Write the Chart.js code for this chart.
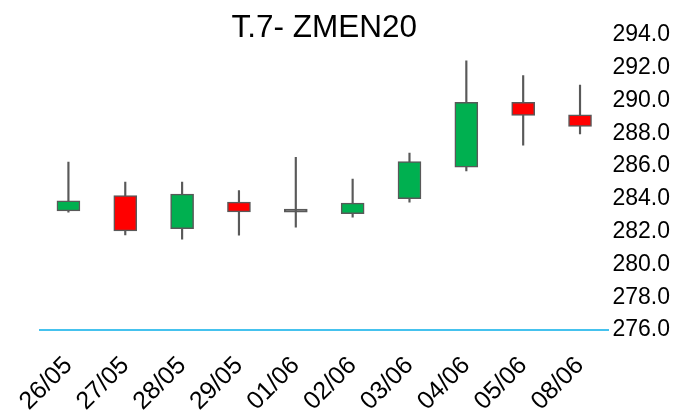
<!DOCTYPE html>
<html><head><meta charset="utf-8">
<script src="https://cdn.jsdelivr.net/npm/chart.js@4/dist/chart.umd.min.js"></script>
<style>html,body{margin:0;padding:0;background:#fff}#wrap{width:682px;height:411px}</style>
</head><body><div id="wrap"><canvas id="c" width="682" height="411"></canvas></div>
<script>
const chartTitle = 'T.7- ZMEN20';
const dates = ['26/05','27/05','28/05','29/05','01/06','02/06','03/06','04/06','05/06','08/06'];
const openVals  = [283.27, 284.20, 282.19, 283.80, 283.19, 283.10, 284.02, 285.94, 289.89, 289.13];
const highVals  = [286.24, 285.02, 285.02, 284.51, 286.53, 285.21, 286.79, 292.43, 291.52, 290.95];
const lowVals   = [283.19, 281.80, 281.54, 281.79, 282.27, 282.88, 283.80, 285.71, 287.28, 287.97];
const closeVals = [283.88, 282.05, 284.29, 283.21, 283.19, 283.74, 286.28, 289.89, 289.09, 288.42];
const yTickValues = [276, 278, 280, 282, 284, 286, 288, 290, 292, 294];

const UP = '#00B050', DOWN = '#FF0000', EDGE = '#595959';
const bodyColors = dates.map((d, i) => closeVals[i] > openVals[i] ? UP : (closeVals[i] < openVals[i] ? DOWN : EDGE));

const titlePlugin = {
  id: 'customTitle',
  afterDraw(chart) {
    const { ctx, chartArea } = chart;
    ctx.save();
    ctx.font = '31.5px "Liberation Sans", Arial, sans-serif';
    ctx.fillStyle = '#000';
    ctx.textAlign = 'center';
    ctx.textBaseline = 'alphabetic';
    ctx.fillText(chartTitle, (chartArea.left + chartArea.right) / 2, 37);
    ctx.restore();
  }
};

new Chart(document.getElementById('c'), {
  type: 'bar',
  data: {
    labels: dates,
    datasets: [
      {
        label: 'body',
        data: dates.map((d, i) => [openVals[i], closeVals[i]]),
        backgroundColor: bodyColors,
        borderColor: EDGE,
        borderWidth: 1.5,
        borderSkipped: false,
        barThickness: 23,
        minBarLength: 3,
        grouped: false,
        order: 0
      },
      {
        label: 'wick',
        data: dates.map((d, i) => [lowVals[i], highVals[i]]),
        backgroundColor: EDGE,
        borderWidth: 0,
        barThickness: 1.5,
        grouped: false,
        order: 1
      }
    ]
  },
  options: {
    responsive: false,
    animation: false,
    devicePixelRatio: 1,
    layout: { padding: { left: 40, right: 8, top: 35, bottom: 0 } },
    plugins: { legend: { display: false }, tooltip: { enabled: false }, title: { display: false } },
    scales: {
      x: {
        type: 'category',
        offset: true,
        afterFit(scale) { scale.height = 81; },
        grid: { display: false, drawTicks: false },
        border: { display: true, color: '#45C2EE', width: 2 },
        ticks: {
          minRotation: 45, maxRotation: 45, padding: 21, labelOffset: 0,
          color: '#000',
          font: { family: '"Liberation Sans", Arial, sans-serif', size: 25 }
        }
      },
      y: {
        position: 'right',
        min: yTickValues[0],
        max: yTickValues[yTickValues.length - 1],
        afterBuildTicks(scale) { scale.ticks = yTickValues.map(v => ({ value: v })); },
        grid: { display: false, drawTicks: false },
        border: { display: false },
        ticks: {
          padding: 4,
          color: '#000',
          font: { family: '"Liberation Sans", Arial, sans-serif', size: 23 },
          callback: v => Number(v).toFixed(1)
        }
      }
    }
  },
  plugins: [titlePlugin]
});
</script>
</body></html>
